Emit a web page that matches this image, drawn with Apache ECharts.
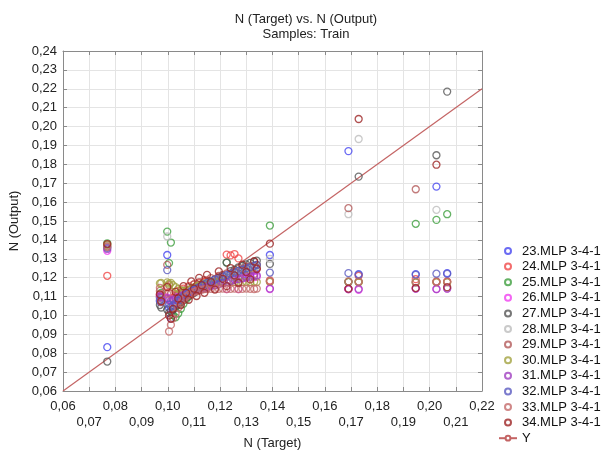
<!DOCTYPE html>
<html>
<head>
<meta charset="utf-8">
<title>N (Target) vs. N (Output)</title>
<script src="https://cdn.jsdelivr.net/npm/echarts@6/dist/echarts.min.js"></script>
<style>
  html, body { margin: 0; padding: 0; background: #fff; }
  #chart { width: 603px; height: 451px; }
</style>
</head>
<body>
<div id="chart"></div>
<script>
// target values of the training samples (shared by every model)
// first 7 are the isolated samples, the rest form the dense cluster
const targets = [
  0.0769, 0.1690, 0.1729, 0.1947, 0.2026, 0.2067, 0.1390,
  0.0970, 0.0975, 0.0998, 0.1005, 0.1012, 0.1020, 0.1030, 0.1040, 0.1050, 0.1060,
  0.1070, 0.1080, 0.1090, 0.1100, 0.1110, 0.1120, 0.1130, 0.1140, 0.1150, 0.1165,
  0.1180, 0.1195, 0.1210, 0.1225, 0.1240, 0.1255, 0.1270, 0.1285, 0.1300, 0.1315,
  0.1330, 0.1340
]

// model outputs, one array per network, same order as targets
const out23 = [0.0832, 0.1870, 0.1219, 0.1219, 0.1682, 0.1224, 0.1320,
  0.1075, 0.1098, 0.1320, 0.1040, 0.0985, 0.1030, 0.1062, 0.1095, 0.1118, 0.1090,
  0.1125, 0.1108, 0.1140, 0.1122, 0.1150, 0.1135, 0.1160, 0.1142, 0.1172, 0.1158,
  0.1180, 0.1190, 0.1178, 0.1205, 0.1215, 0.1198, 0.1225, 0.1232, 0.1218, 0.1245,
  0.1238, 0.1252]
const out24 = [0.1210, 0.1139, 0.1210, 0.1192, 0.1178, 0.1180, 0.1185,
  0.1110, 0.1085, 0.1155, 0.1120, 0.1068, 0.1092, 0.1105, 0.1130, 0.1118, 0.1142,
  0.1128, 0.1155, 0.1140, 0.1165, 0.1150, 0.1172, 0.1160, 0.1178, 0.1185, 0.1170,
  0.1192, 0.1205, 0.1215, 0.1322, 0.1318, 0.1325, 0.1302, 0.1240, 0.1258, 0.1236,
  0.1262, 0.1250]
const out25 = [0.1382, 0.1178, 0.1178, 0.1485, 0.1506, 0.1536, 0.1476,
  0.1095, 0.1120, 0.1444, 0.1277, 0.1386, 0.1002, 0.0990, 0.1010, 0.1035, 0.1062,
  0.1085, 0.1100, 0.1118, 0.1128, 0.1138, 0.1145, 0.1155, 0.1162, 0.1170, 0.1180,
  0.1188, 0.1196, 0.1205, 0.1280, 0.1218, 0.1226, 0.1232, 0.1240, 0.1246, 0.1252,
  0.1260, 0.1265]
const out26 = [0.1342, 0.1139, 0.1136, 0.1142, 0.1139, 0.1142, 0.1140,
  0.1105, 0.1100, 0.1095, 0.1088, 0.1080, 0.1085, 0.1092, 0.1100, 0.1108, 0.1112,
  0.1118, 0.1125, 0.1130, 0.1135, 0.1140, 0.1146, 0.1150, 0.1155, 0.1160, 0.1165,
  0.1170, 0.1175, 0.1180, 0.1140, 0.1185, 0.1190, 0.1140, 0.1195, 0.1198, 0.1200,
  0.1203, 0.1205]
const out27 = [0.0756, 0.1178, 0.1735, 0.1175, 0.1848, 0.2185, 0.1273,
  0.1055, 0.1042, 0.1030, 0.1015, 0.1022, 0.1030, 0.1045, 0.1058, 0.1070, 0.1082,
  0.1095, 0.1105, 0.1112, 0.1120, 0.1132, 0.1140, 0.1150, 0.1158, 0.1166, 0.1178,
  0.1190, 0.1200, 0.1212, 0.1280, 0.1235, 0.1242, 0.1255, 0.1262, 0.1270, 0.1278,
  0.1285, 0.1290]
const out28 = [0.1370, 0.1536, 0.1934, 0.1180, 0.1559, 0.1145, 0.1300,
  0.1090, 0.1082, 0.1418, 0.1075, 0.1068, 0.1060, 0.1072, 0.1085, 0.1095, 0.1105,
  0.1115, 0.1122, 0.1130, 0.1138, 0.1145, 0.1150, 0.1158, 0.1164, 0.1170, 0.1178,
  0.1186, 0.1194, 0.1200, 0.1208, 0.1215, 0.1222, 0.1230, 0.1236, 0.1242, 0.1248,
  0.1255, 0.1260]
const out29 = [0.1366, 0.1568, 0.1178, 0.1668, 0.1180, 0.1178, 0.1180,
  0.1130, 0.1105, 0.1268, 0.1160, 0.1115, 0.1085, 0.1058, 0.1112, 0.1078, 0.1132,
  0.1098, 0.1150, 0.1113, 0.1164, 0.1126, 0.1176, 0.1138, 0.1187, 0.1148, 0.1198,
  0.1160, 0.1210, 0.1172, 0.1222, 0.1184, 0.1234, 0.1196, 0.1246, 0.1208, 0.1258,
  0.1220, 0.1268]
const out30 = [0.1374, 0.1178, 0.1175, 0.1175, 0.1175, 0.1175, 0.1178,
  0.1170, 0.1172, 0.1175, 0.1168, 0.1172, 0.1160, 0.1150, 0.1140, 0.1132, 0.1128,
  0.1130, 0.1135, 0.1142, 0.1148, 0.1155, 0.1160, 0.1165, 0.1168, 0.1172, 0.1175,
  0.1176, 0.1178, 0.1178, 0.1177, 0.1178, 0.1176, 0.1178, 0.1177, 0.1178, 0.1176,
  0.1178, 0.1177]
const out31 = [0.1352, 0.1139, 0.1140, 0.1142, 0.1140, 0.1142, 0.1142,
  0.1100, 0.1095, 0.1090, 0.1082, 0.1076, 0.1080, 0.1088, 0.1095, 0.1102, 0.1108,
  0.1115, 0.1120, 0.1125, 0.1130, 0.1134, 0.1138, 0.1141, 0.1145, 0.1150, 0.1155,
  0.1160, 0.1166, 0.1172, 0.1176, 0.1182, 0.1188, 0.1192, 0.1198, 0.1202, 0.1206,
  0.1210, 0.1212]
const out32 = [0.1358, 0.1224, 0.1215, 0.1215, 0.1221, 0.1220, 0.1227,
  0.1080, 0.1070, 0.1240, 0.1058, 0.1045, 0.1052, 0.1064, 0.1078, 0.1090, 0.1100,
  0.1110, 0.1118, 0.1128, 0.1136, 0.1143, 0.1150, 0.1158, 0.1165, 0.1172, 0.1180,
  0.1190, 0.1198, 0.1206, 0.1214, 0.1222, 0.1228, 0.1236, 0.1242, 0.1250, 0.1256,
  0.1262, 0.1268]
const out33 = [0.1362, 0.1180, 0.1180, 0.1178, 0.1178, 0.1178, 0.1182,
  0.1146, 0.1072, 0.1115, 0.0915, 0.0950, 0.0985, 0.1010, 0.1040, 0.1065, 0.1085,
  0.1100, 0.1110, 0.1118, 0.1125, 0.1130, 0.1134, 0.1137, 0.1139, 0.1140, 0.1141,
  0.1141, 0.1141, 0.1142, 0.1140, 0.1141, 0.1142, 0.1140, 0.1141, 0.1142, 0.1141,
  0.1140, 0.1142]
const out34 = [0.1378, 0.1142, 0.2040, 0.1145, 0.1798, 0.1150, 0.1380,
  0.1112, 0.1075, 0.1150, 0.1000, 0.0982, 0.1035, 0.1125, 0.1090, 0.1055, 0.1155,
  0.1120, 0.1083, 0.1180, 0.1142, 0.1103, 0.1199, 0.1160, 0.1120, 0.1215, 0.1176,
  0.1137, 0.1233, 0.1194, 0.1155, 0.1251, 0.1212, 0.1173, 0.1269, 0.1230, 0.1191,
  0.1287, 0.1246]

const modelNames = ['23.MLP 3-4-1', '24.MLP 3-4-1', '25.MLP 3-4-1', '26.MLP 3-4-1',
  '27.MLP 3-4-1', '28.MLP 3-4-1', '29.MLP 3-4-1', '30.MLP 3-4-1', '31.MLP 3-4-1',
  '32.MLP 3-4-1', '33.MLP 3-4-1', '34.MLP 3-4-1']
const modelOutputs = [out23, out24, out25, out26, out27, out28, out29, out30, out31, out32, out33, out34]
const modelColors = ['#4646f0', '#f04848', '#3f9f3f', '#f040f0', '#555555', '#bdbdbd',
  '#b35a5a', '#a3a340', '#a040c0', '#5a5ac0', '#c46a6a', '#9c2424']

// ideal fit line Y = X
const diagEnds = [0.06, 0.22]

const chart = echarts.init(document.getElementById('chart'))

const fmt = v => v.toFixed(2).replace('.', ',')

const series = modelNames.map((name, k) => ({
  name: name,
  type: 'scatter',
  symbol: 'circle',
  symbolSize: 7,
  z: 3,
  itemStyle: { color: 'transparent', borderColor: modelColors[k], borderWidth: 1.3 },
  emphasis: { disabled: true },
  data: targets.map((t, i) => [t, modelOutputs[k][i]])
}))

series.push({
  name: 'Y',
  type: 'line',
  symbol: 'emptyCircle',
  symbolSize: 6,
  showSymbol: false,
  z: 2,
  lineStyle: { color: '#c46464', width: 1.2 },
  itemStyle: { color: '#c46464' },
  data: diagEnds.map(v => [v, v])
})

const axisGray = '#8a8a8a'

chart.setOption({
  animation: false,
  backgroundColor: '#fff',
  title: {
    text: 'N (Target) vs. N (Output)',
    subtext: 'Samples: Train',
    left: 306,
    top: 13,
    padding: 0,
    textAlign: 'center',
    itemGap: 2,
    textStyle: { fontFamily: 'Liberation Sans', fontSize: 13, fontWeight: 'normal', color: '#222' },
    subtextStyle: { fontFamily: 'Liberation Sans', fontSize: 13, color: '#222' }
  },
  legend: {
    orient: 'vertical',
    left: 498,
    top: 244,
    padding: 0,
    itemWidth: 18,
    itemHeight: 6,
    itemGap: 1.6,
    data: modelNames.concat(['Y']),
    textStyle: { fontFamily: 'Liberation Sans', fontSize: 13, color: '#111', lineHeight: 14 }
  },
  grid: { left: 63, right: 121, top: 51, bottom: 60, outerBoundsMode: 'none' },
  xAxis: [{
    type: 'value',
    min: 0.06,
    max: 0.22,
    interval: 0.01,
    name: 'N (Target)',
    nameLocation: 'middle',
    nameGap: 46,
    nameTextStyle: { fontFamily: 'Liberation Sans', fontSize: 13, color: '#222' },
    axisLine: { lineStyle: { color: axisGray } },
    axisTick: { inside: true, length: 4, lineStyle: { color: axisGray } },
    axisLabel: {
      margin: 7,
      fontFamily: 'Liberation Sans',
      fontSize: 13,
      color: '#222',
      lineHeight: 16,
      formatter: v => (Math.round(v * 100) % 2 ? '\n' + fmt(v) : fmt(v))
    },
    splitLine: { lineStyle: { color: '#e4e4e4' } }
  }, {
    type: 'value',
    position: 'top',
    min: 0.06,
    max: 0.22,
    interval: 0.01,
    axisLine: { lineStyle: { color: axisGray } },
    axisTick: { inside: true, length: 4, lineStyle: { color: axisGray } },
    axisLabel: { show: false },
    splitLine: { show: false }
  }],
  yAxis: [{
    type: 'value',
    min: 0.06,
    max: 0.24,
    interval: 0.01,
    name: 'N (Output)',
    nameLocation: 'middle',
    nameGap: 29,
    nameTextStyle: { fontFamily: 'Liberation Sans', fontSize: 13, color: '#222' },
    axisLine: { show: true, lineStyle: { color: axisGray } },
    axisTick: { show: true, inside: true, length: 4, lineStyle: { color: axisGray } },
    axisLabel: { margin: 6, fontFamily: 'Liberation Sans', fontSize: 13, color: '#222', formatter: fmt },
    splitLine: { lineStyle: { color: '#e4e4e4' } }
  }, {
    type: 'value',
    position: 'right',
    min: 0.06,
    max: 0.24,
    interval: 0.01,
    axisLine: { show: true, lineStyle: { color: axisGray } },
    axisTick: { show: true, inside: true, length: 4, lineStyle: { color: axisGray } },
    axisLabel: { show: false },
    splitLine: { show: false }
  }],
  series: series
})
</script>
</body>
</html>
